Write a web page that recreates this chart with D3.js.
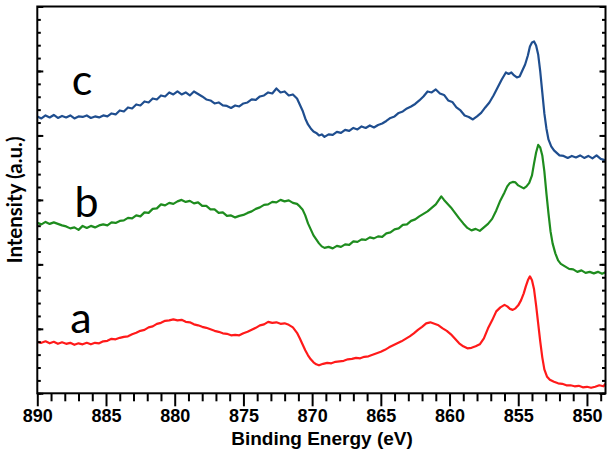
<!DOCTYPE html>
<html><head><meta charset="utf-8">
<script src="https://cdn.jsdelivr.net/npm/d3@7"></script>
<style>body{margin:0;background:#fff}svg{display:block}</style>
</head><body>
<svg id="chart" width="608" height="451"></svg>
<script>
// ---- data ----
const energyDomain = [890, 848.65];
const intensityDomain = [0, 387];
const xTickLabels = [890, 885, 880, 875, 870, 865, 860, 855, 850];
const seriesLabels = ["a", "b", "c"];
const seriesColors = ["#ff1a1a", "#1e8c1e", "#1f4e8f"];
// label anchor positions in data units [energy, intensity] (baseline)
const labelAnchors = [[887.6, 60.3], [887.3, 176.3], [887.5, 298.3]];

const curveA = [
[890.0,51.5],[889.7,50.5],[889.4,52],[889.1,50],[888.8,51.5],[888.5,49.5],[888.2,51],[887.9,49.5],[887.6,50.5],[887.3,48.5],
[887.0,50],[886.7,49],[886.4,50.5],[886.1,49],[885.8,50.5],[885.5,50],[885.2,52],[884.9,52.5],[884.6,54.5],[884.3,54],
[884.0,55.5],[883.7,56.5],[883.4,57],[883.1,59],[882.8,60.5],[882.5,62.5],[882.2,63.5],[881.9,66],[881.6,67],[881.3,69.5],
[881.0,70.5],[880.7,72.5],[880.4,73],[880.1,74],[879.8,73],[879.5,73.5],[879.2,71.5],[878.9,71],[878.6,69],[878.3,68],
[878.0,66.5],[877.7,65.5],[877.4,64],[877.1,62.5],[876.8,61.5],[876.5,60],[876.2,59.5],[875.9,58],[875.6,58.5],[875.3,58],
[875.0,60],[874.7,61.5],[874.4,63.5],[874.1,65.5],[873.8,68],[873.5,69],[873.2,71.5],[872.9,70.5],[872.6,71],[872.3,69.5],
[872.0,70],[871.7,68.5],[871.4,66],[871.1,60.5],[870.9,55],[870.7,49],[870.5,43],[870.3,38],[870.1,34],[869.9,31],
[869.7,29],[869.5,28],[869.2,29.5],[868.9,30.5],[868.6,30],[868.3,31.5],[868.0,32],[867.7,32.5],[867.4,34],[867.1,34.5],
[866.8,35.5],[866.5,35],[866.2,36.5],[865.9,37],[865.6,38.5],[865.3,40],[865.0,41.5],[864.7,43.5],[864.4,46],[864.1,48],
[863.8,50],[863.5,52],[863.2,54.5],[862.9,57],[862.6,60],[862.3,63.5],[862.0,66.5],[861.7,70],[861.4,71],[861.1,69.5],
[860.8,68],[860.5,65],[860.2,62.5],[859.9,59],[859.6,54.5],[859.3,50],[859.0,47],[858.7,45],[858.4,45.5],[858.1,47],
[857.8,49],[857.5,55],[857.2,65],[856.9,73],[856.6,82],[856.3,86],[856.0,88.5],[855.8,87],[855.6,84.5],[855.4,83.5],
[855.2,85],[855.0,88],[854.8,93],[854.6,100],[854.45,107],[854.3,113],[854.15,117],[854.0,113],[853.85,104],[853.7,88],
[853.55,70],[853.4,52],[853.25,36],[853.1,24],[852.9,16.5],[852.7,13.5],[852.4,11.5],[852.1,10],[851.8,9.5],[851.5,8],
[851.2,8],[850.9,7],[850.6,7.5],[850.3,6],[850.0,6.5],[849.7,5.5],[849.4,6.5],[849.1,8],[848.8,7],[848.65,9.5]
];
const curveB = [
[890.0,170.5],[889.7,169],[889.4,171.5],[889.1,169.5],[888.8,171],[888.5,169.5],[888.2,168],[887.9,167],[887.6,165],[887.3,166],
[887.0,163.5],[886.7,167.5],[886.4,165.5],[886.1,167.5],[885.8,166],[885.5,168],[885.2,169],[884.9,168],[884.6,171],[884.3,170.5],
[884.0,172.5],[883.7,173],[883.4,175.5],[883.1,175],[882.8,178],[882.5,177],[882.2,181],[881.9,180.5],[881.6,184.5],[881.3,185],
[881.0,189],[880.7,188],[880.4,190.5],[880.1,189.5],[879.8,192],[879.5,193.5],[879.2,191.5],[878.9,192.5],[878.6,190],[878.3,191],
[878.0,187.5],[877.7,187.5],[877.4,184],[877.1,184],[876.8,180.5],[876.5,181],[876.2,177.5],[875.9,178],[875.6,176],[875.3,177.5],
[875.0,178.5],[874.7,180.5],[874.4,182],[874.1,184.5],[873.8,186],[873.5,188.5],[873.2,189],[872.9,191.5],[872.6,191],[872.3,193.5],
[872.0,192],[871.7,193],[871.4,190.5],[871.1,189.5],[870.9,187],[870.7,184],[870.5,178],[870.3,170],[870.1,164],[869.9,158],
[869.7,154],[869.5,150],[869.3,147],[869.1,145.5],[868.8,146.5],[868.5,145],[868.2,147.5],[867.9,146.5],[867.6,149],[867.3,148.5],
[867.0,152],[866.7,151.5],[866.4,154],[866.1,153.5],[865.8,156],[865.5,155],[865.2,157],[864.9,156.5],[864.6,160],[864.3,161],
[864.0,164],[863.7,165],[863.4,168.5],[863.1,169],[862.8,172.5],[862.5,174],[862.2,177],[861.9,179.5],[861.6,182],[861.3,185.5],
[861.0,189],[860.8,193],[860.6,197],[860.4,193.5],[860.2,190.5],[859.9,186],[859.6,180.5],[859.3,175],[859.0,170],[858.7,165.5],
[858.4,163],[858.1,164.5],[857.8,162.5],[857.5,166],[857.2,169.5],[856.9,174.5],[856.6,183],[856.3,193],[856.0,201],[855.8,207],
[855.6,210.5],[855.4,211.5],[855.2,211],[855.0,208],[854.8,206.5],[854.6,205],[854.4,207],[854.2,210.5],[854.0,218],[853.85,230],
[853.7,241],[853.55,248.5],[853.4,246],[853.25,238],[853.1,222],[852.95,200],[852.8,180],[852.65,162],[852.5,150],[852.3,140],
[852.1,133],[851.9,129.5],[851.6,127],[851.3,124.5],[851.0,124],[850.7,121.5],[850.4,123],[850.1,120.5],[849.8,121.5],[849.5,120],
[849.2,121.5],[848.9,119.5],[848.65,121]
];
const curveC = [
[890.0,277],[889.7,275],[889.4,278],[889.1,276],[888.8,278.5],[888.5,275.5],[888.2,277.5],[887.9,276],[887.6,278],[887.3,275],
[887.0,277],[886.7,276.5],[886.4,278],[886.1,275.5],[885.8,277],[885.5,276],[885.2,278],[884.9,277],[884.6,280],[884.3,279],
[884.0,283],[883.7,282],[883.4,286],[883.1,285],[882.8,289],[882.5,288],[882.2,292],[881.9,291],[881.6,295],[881.3,294],
[881.0,298],[880.7,297],[880.4,301],[880.1,299],[879.8,302],[879.5,299],[879.2,301],[878.9,298],[878.6,302],[878.3,299.5],
[878.0,297],[877.7,294],[877.4,293],[877.1,290],[876.8,291],[876.5,288],[876.2,287.5],[875.9,285.5],[875.6,288],[875.3,287],
[875.0,290],[874.7,291],[874.4,294],[874.1,293.5],[873.8,297],[873.5,298],[873.2,301],[872.9,300],[872.6,305],[872.3,301],
[872.0,302],[871.7,298],[871.4,299],[871.1,295],[870.9,289],[870.7,283],[870.5,275],[870.3,269],[870.1,265],[869.9,262],
[869.7,260.5],[869.5,258],[869.3,259],[869.1,256.5],[868.8,259],[868.5,258.5],[868.2,261.5],[867.9,260.5],[867.6,263.5],[867.3,262.5],
[867.0,265.5],[866.7,264],[866.4,267],[866.1,265.5],[865.8,268],[865.5,266],[865.2,268.5],[864.9,270],[864.6,272.5],[864.3,275.5],
[864.0,277],[863.7,280.5],[863.4,282],[863.1,285],[862.8,287],[862.5,289.5],[862.2,293],[861.9,297],[861.6,302],[861.3,301],
[861.0,304],[860.7,300],[860.4,298.5],[860.1,293],[859.8,291.5],[859.5,286],[859.2,283],[858.9,278],[858.6,276.5],[858.3,274],
[858.0,277],[857.7,280.5],[857.4,286],[857.1,291],[856.8,298],[856.5,306],[856.2,314],[855.9,321],[855.7,319.5],[855.5,321],
[855.3,318],[855.1,316],[854.9,317],[854.7,323],[854.5,329],[854.3,338],[854.15,347],[854.0,351],[853.85,352],[853.7,348],
[853.55,339],[853.4,322],[853.25,301],[853.1,280],[852.95,265],[852.8,254],[852.6,247],[852.4,243],[852.2,240.5],[852.0,238],
[851.7,237.5],[851.4,235.5],[851.1,237.5],[850.8,236],[850.5,238],[850.2,235.5],[849.9,237.5],[849.6,235],[849.3,238],[849.0,234.5],
[848.65,233]
];
const curves = [curveA, curveB, curveC];

// ---- layout ----
const plot = {left: 37.3, right: 605.5, top: 6.5, bottom: 393.3};
const svg = d3.select("#chart");
const x = d3.scaleLinear().domain(energyDomain).range([plot.left, plot.right]);
const y = d3.scaleLinear().domain(intensityDomain).range([plot.bottom, plot.top]);

// curves
const line = d3.line().x(d => x(d[0])).y(d => y(d[1])).curve(d3.curveLinear);
curves.forEach((c, i) => {
  svg.append("path").datum(c).attr("d", line)
    .attr("fill", "none").attr("stroke", seriesColors[i])
    .attr("stroke-width", 2.2).attr("stroke-linejoin", "round");
});

// frame
svg.append("rect").attr("x", plot.left).attr("y", plot.top)
  .attr("width", plot.right - plot.left).attr("height", plot.bottom - plot.top)
  .attr("fill", "none").attr("stroke", "#000").attr("stroke-width", 2);

// bottom axis: minor and major ticks
const xMinor = d3.range(849, 891, 1).filter(v => v % 5 !== 0);
const gxMinor = svg.append("g").attr("transform", `translate(0,${plot.bottom})`)
  .call(d3.axisBottom(x).tickValues(xMinor).tickSize(8).tickFormat(""));
const gx = svg.append("g").attr("transform", `translate(0,${plot.bottom})`)
  .call(d3.axisBottom(x).tickValues(xTickLabels).tickSize(13).tickPadding(3).tickFormat(d3.format("d")));
[gxMinor, gx].forEach(g => {
  g.select(".domain").remove();
  g.selectAll(".tick line").attr("stroke", "#000").attr("stroke-width", 2);
});
gx.selectAll(".tick text").attr("font-family", "Liberation Sans, Arial, sans-serif")
  .attr("font-weight", "bold").attr("font-size", 18).attr("fill", "#000");

// left / right axes: inward ticks, no labels
const yMinor = d3.range(0, 31).map(k => k * intensityDomain[1] / 30);
const yMajor = yMinor.filter((v, k) => k % 5 === 0);
[[d3.axisLeft, plot.left], [d3.axisRight, plot.right]].forEach(([ax, pos]) => {
  const gm = svg.append("g").attr("transform", `translate(${pos},0)`)
    .call(ax(y).tickValues(yMinor).tickSize(-3.5).tickFormat(""));
  const gM = svg.append("g").attr("transform", `translate(${pos},0)`)
    .call(ax(y).tickValues(yMajor).tickSize(-6).tickFormat(""));
  [gm, gM].forEach(g => {
    g.select(".domain").remove();
    g.selectAll(".tick line").attr("stroke", "#000").attr("stroke-width", 2);
  });
});

// axis titles
svg.append("text").attr("x", 322).attr("y", 445).attr("text-anchor", "middle")
  .attr("font-family", "Liberation Sans, Arial, sans-serif").attr("font-weight", "bold")
  .attr("font-size", 19).text("Binding Energy (eV)");
svg.append("text").attr("transform", "translate(22,200) rotate(-90)").attr("text-anchor", "middle")
  .attr("font-family", "Lato, 'Open Sans', sans-serif").attr("font-weight", "bold")
  .attr("font-size", 20.5).text("Intensity (a.u.)");

// series letters
seriesLabels.forEach((t, i) => {
  svg.append("text").attr("x", x(labelAnchors[i][0])).attr("y", y(labelAnchors[i][1]))
    .attr("font-family", "Lato, 'Open Sans', sans-serif").attr("font-size", 43)
    .attr("fill", "#000").text(t);
});
</script>
</body></html>
